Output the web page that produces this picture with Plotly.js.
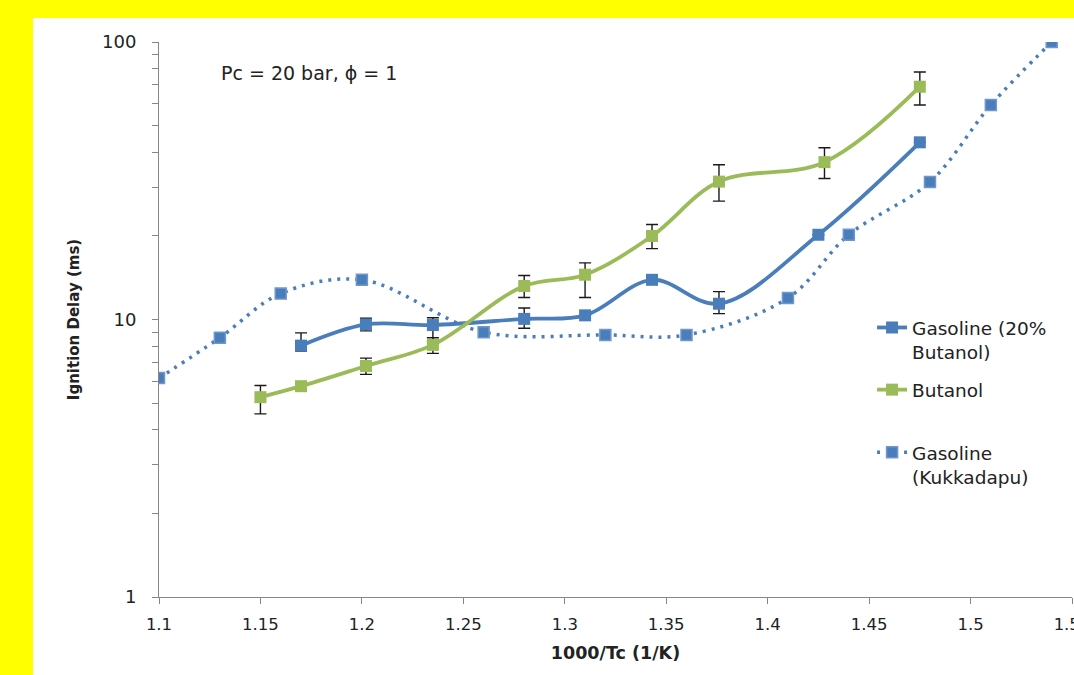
<!DOCTYPE html>
<html>
<head>
<meta charset="utf-8">
<script src="https://cdn.plot.ly/plotly-3.0.1.min.js"></script>
<style>
  html, body { margin: 0; padding: 0; background: #FFFF00; overflow: hidden; }
  #chart { position: absolute; left: 33px; top: 18px; width: 1041px; height: 657px; background: #fff; }
</style>
</head>
<body>
<div id="chart"></div>
<script>
// Gasoline with 20% butanol (this work)
const blendX = [1.17, 1.202, 1.235, 1.28, 1.31, 1.343, 1.376, 1.425, 1.475];
const blendY = [8.05, 9.6, 9.55, 10.05, 10.35, 13.9, 11.4, 20.2, 43.5];
const blendErrPlus  = [0.9, 0.5, 0.6, 0.95, 0, 0, 1.2, 0, 0];
const blendErrMinus = [0.35, 0.5, 1.2, 0.75, 0, 0, 0.9, 0, 0];

// Neat butanol
const butX = [1.15, 1.17, 1.202, 1.235, 1.28, 1.31, 1.343, 1.376, 1.428, 1.475];
const butY = [5.25, 5.75, 6.8, 8.1, 13.2, 14.5, 20.0, 31.4, 36.9, 69.0];
const butErrPlus  = [0.53, 0, 0.46, 0.5, 1.2, 1.5, 2.0, 4.7, 4.7, 9.0];
const butErrMinus = [0.68, 0, 0.46, 0.55, 1.2, 2.5, 2.0, 4.7, 4.7, 9.7];

// Gasoline reference data (Kukkadapu)
const kukX = [1.10, 1.13, 1.16, 1.20, 1.26, 1.32, 1.36, 1.41, 1.44, 1.48, 1.51, 1.54];
const kukY = [6.15, 8.6, 12.4, 13.9, 9.0, 8.8, 8.8, 11.95, 20.2, 31.3, 59.3, 100];

// Axis ticks
const xTickVals = [1.1, 1.15, 1.2, 1.25, 1.3, 1.35, 1.4, 1.45, 1.5, 1.55];
const xTickText = ['1.1', '1.15', '1.2', '1.25', '1.3', '1.35', '1.4', '1.45', '1.5', '1.55'];
const yTickVals = [1, 2, 3, 4, 5, 6, 7, 8, 9, 10, 20, 30, 40, 50, 60, 70, 80, 90, 100];
const yTickText = ['1', '', '', '', '', '', '', '', '', '10', '', '', '', '', '', '', '', '', '100'];

const BLUE = '#4A7EBB';
const GREEN = '#9BBB59';
const TEXT_FONT = 'DejaVu Sans, Open Sans, sans-serif';

const traces = [
  {
    x: kukX, y: kukY, name: 'Gasoline<br>(Kukkadapu)', legend: 'legend3',
    mode: 'lines+markers', type: 'scatter',
    line: { color: BLUE, width: 3.5, dash: '3px,6px', shape: 'spline', smoothing: 1 },
    marker: { symbol: 'square', size: 11, color: BLUE, line: { color: '#6F97CC', width: 1.5 } }
  },
  {
    x: blendX, y: blendY, name: 'Gasoline (20%<br>Butanol)', legend: 'legend',
    mode: 'lines+markers', type: 'scatter',
    line: { color: BLUE, width: 3.8, shape: 'spline', smoothing: 1 },
    marker: { symbol: 'square', size: 12, color: BLUE },
    error_y: { type: 'data', symmetric: false, array: blendErrPlus, arrayminus: blendErrMinus,
               color: '#1a1a1a', thickness: 1.4, width: 6 }
  },
  {
    x: butX, y: butY, name: 'Butanol', legend: 'legend2',
    mode: 'lines+markers', type: 'scatter',
    line: { color: GREEN, width: 3.8, shape: 'spline', smoothing: 1 },
    marker: { symbol: 'square', size: 12, color: GREEN },
    error_y: { type: 'data', symmetric: false, array: butErrPlus, arrayminus: butErrMinus,
               color: '#1a1a1a', thickness: 1.4, width: 6 }
  }
];

const legendBase = {
  xanchor: 'left', yanchor: 'top', bgcolor: 'rgba(0,0,0,0)', valign: 'top',
  font: { family: TEXT_FONT, size: 18.5, color: '#222' }, itemwidth: 30
};

const layout = {
  width: 1041, height: 657,
  margin: { l: 126, r: 2, t: 24, b: 78 },
  paper_bgcolor: '#ffffff', plot_bgcolor: '#ffffff',
  showlegend: true,
  legend:  Object.assign({}, legendBase, { x: 0.781, y: 0.519 }),
  legend2: Object.assign({}, legendBase, { x: 0.781, y: 0.407 }),
  legend3: Object.assign({}, legendBase, { x: 0.781, y: 0.294 }),
  xaxis: {
    range: [1.1, 1.55], tickmode: 'array', tickvals: xTickVals, ticktext: xTickText,
    showgrid: false, zeroline: false, showline: true, linecolor: '#868686', linewidth: 1,
    ticks: 'outside', ticklen: 6, tickcolor: '#868686', ticklabelstandoff: 6,
    ticklabeloverflow: 'allow',
    tickfont: { family: TEXT_FONT, size: 16.5, color: '#222' },
    title: { text: '<b>1000/Tc (1/K)</b>', font: { family: TEXT_FONT, size: 17.5, color: '#222' }, standoff: 13 }
  },
  yaxis: {
    type: 'log', range: [0, 2], tickmode: 'array', tickvals: yTickVals, ticktext: yTickText,
    showgrid: false, zeroline: false, showline: true, linecolor: '#868686', linewidth: 1,
    ticks: 'outside', ticklen: 6, tickcolor: '#868686', ticklabelstandoff: 12,
    tickfont: { family: TEXT_FONT, size: 18, color: '#222' },
    title: { text: '<b>Ignition Delay (ms)</b>', font: { family: TEXT_FONT, size: 15, color: '#222' }, standoff: 18 }
  },
  annotations: [{
    xref: 'paper', yref: 'paper', x: 0.066, y: 0.944, xanchor: 'left', yanchor: 'middle',
    text: 'Pc = 20 bar, ϕ = 1', showarrow: false,
    font: { family: TEXT_FONT, size: 19, color: '#222' }
  }]
};

Plotly.newPlot('chart', traces, layout, { displayModeBar: false, staticPlot: true });
</script>
</body>
</html>
